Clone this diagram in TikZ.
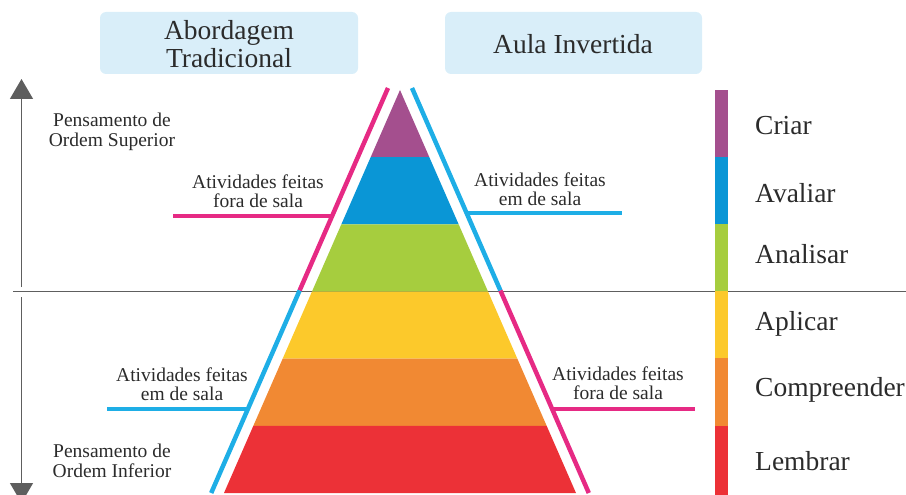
\documentclass[tikz,border=0pt]{standalone}
\usepackage{fontspec}
\setmainfont{Liberation Serif}
\usetikzlibrary{calc,arrows.meta}
\definecolor{txt}{HTML}{2B2B2B}
\definecolor{boxbg}{HTML}{D9EEF9}
\definecolor{cpurple}{HTML}{A44F8E}
\definecolor{cblue}{HTML}{0A96D6}
\definecolor{cgreen}{HTML}{A6CD3E}
\definecolor{cyellow}{HTML}{FCC92B}
\definecolor{corange}{HTML}{F18933}
\definecolor{cred}{HTML}{EC3137}
\definecolor{lpink}{HTML}{E62A84}
\definecolor{lcyan}{HTML}{1EAEE6}
\definecolor{lgray}{HTML}{5E5E5E}
\tikzset{
  titlebox/.style={fill=boxbg, rounded corners=6pt, draw=none},
  bigtext/.style={text=txt, font=\fontsize{27.5}{28}\selectfont, align=center, inner sep=0pt},
  smalltext/.style={text=txt, font=\fontsize{19.5}{19.5}\selectfont, align=center, inner sep=0pt},
  levellabel/.style={text=txt, font=\fontsize{27.5}{28}\selectfont, anchor=base west, inner sep=0pt},
  pinkline/.style={draw=lpink, line width=4.5pt},
  cyanline/.style={draw=lcyan, line width=4.5pt},
  grayline/.style={draw=lgray, line width=1.5pt},
  grayarrow/.style={draw=lgray, line width=1.5pt, -{Triangle[width=23pt,length=20pt]}},
}
\begin{document}
\begin{tikzpicture}[x=1pt,y=-1pt]
\useasboundingbox (0,0) rectangle (906,495);
\clip (0,0) rectangle (906,495);

% separator line
\coordinate (sepL) at (13,291.5);
\coordinate (sepR) at (906,291.5);
\draw[grayline] (sepL) -- (sepR);

% vertical arrows
\coordinate (upS) at (21.5,287);
\coordinate (upE) at (21.5,79);
\coordinate (dnS) at (21.5,297);
\coordinate (dnE) at (21.5,503);
\draw[grayarrow] (upS) -- (upE);
\draw[grayarrow] (dnS) -- (dnE);

% title boxes
\fill[titlebox] (100,12) rectangle (358,74);
\fill[titlebox] (445,12) rectangle (702,74);
\node[bigtext] (t1) at (229,44) {Abordagem\\Tradicional};
\node[bigtext] (t2) at (573,44) {Aula Invertida};

% pyramid
\coordinate (A) at (400,90);
\coordinate (BL) at (224,493);
\coordinate (BR) at (576,493);
\foreach \i/\c in {0/cpurple,1/cblue,2/cgreen,3/cyellow,4/corange,5/cred}{
  \pgfmathsetmacro{\ta}{\i/6}
  \pgfmathsetmacro{\tb}{(\i+1)/6}
  \fill[\c] ($(A)!\ta!(BL)$) -- ($(A)!\tb!(BL)$) -- ($(A)!\tb!(BR)$) -- ($(A)!\ta!(BR)$) -- cycle;
}

% side lines
\coordinate (LT) at (388,88);
\coordinate (LB) at (211.2,493);
\coordinate (LM) at ($(LT)!0.5!(LB)$);
\coordinate (RT) at (412,88);
\coordinate (RB) at (588.8,493);
\coordinate (RM) at ($(RT)!0.5!(RB)$);
\draw[pinkline] (LT) -- (LM);
\draw[cyanline] (LM) -- (LB);
\draw[cyanline] (RT) -- (RM);
\draw[pinkline] (RM) -- (RB);

% connectors to labels
\coordinate (c1a) at (173,216);
\coordinate (c1h) at (174,216);
\coordinate (c1p) at (intersection of c1a--c1h and LT--LB);
\draw[pinkline] (c1a) -- (c1p);

\coordinate (c2a) at (622,213);
\coordinate (c2h) at (623,213);
\coordinate (c2p) at (intersection of c2a--c2h and RT--RB);
\draw[cyanline] (c2p) -- (c2a);

\coordinate (c3a) at (107,409);
\coordinate (c3h) at (108,409);
\coordinate (c3p) at (intersection of c3a--c3h and LT--LB);
\draw[cyanline] (c3a) -- (c3p);

\coordinate (c4a) at (695,409);
\coordinate (c4h) at (696,409);
\coordinate (c4p) at (intersection of c4a--c4h and RT--RB);
\draw[pinkline] (c4p) -- (c4a);

% small labels
\node[smalltext] (ps) at (112,132) {Pensamento de\\Ordem Superior};
\node[smalltext] (pi) at (112,461) {Pensamento de\\Ordem Inferior};
\node[smalltext] (a1) at (258,191) {Atividades feitas\\fora de sala};
\node[smalltext] (a2) at (540,189) {Atividades feitas\\em de sala};
\node[smalltext] (a3) at (182,384) {Atividades feitas\\em de sala};
\node[smalltext] (a4) at (618,383) {Atividades feitas\\fora de sala};

% right bar
\foreach \ya/\yb/\c in {90/157/cpurple,157/224/cblue,224/291/cgreen,291/358/cyellow,358/426/corange,426/495/cred}{
  \fill[\c] (715,\ya) rectangle (728,\yb);
}
\node[levellabel] (l1) at (755,135) {Criar};
\node[levellabel] (l2) at (755,202) {Avaliar};
\node[levellabel] (l3) at (755,263) {Analisar};
\node[levellabel] (l4) at (755,330) {Aplicar};
\node[levellabel] (l5) at (755,396) {Compreender};
\node[levellabel] (l6) at (755,470) {Lembrar};
\end{tikzpicture}
\end{document}
